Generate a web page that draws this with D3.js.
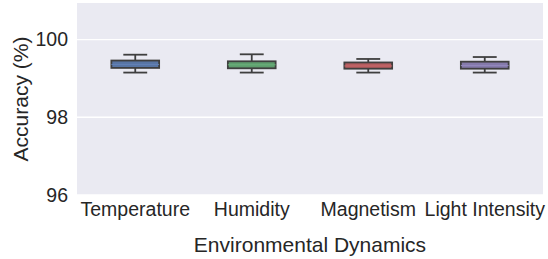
<!DOCTYPE html>
<html>
<head>
<meta charset="utf-8">
<script src="https://cdn.jsdelivr.net/npm/d3@7"></script>
<style>
  body { margin: 0; background: #fff; }
  text { font-family: "Liberation Sans", Arial, sans-serif; fill: #262626; }
</style>
</head>
<body>
<div id="chart"></div>
<script>
const categories = ["Temperature", "Humidity", "Magnetism", "Light Intensity"];
const whiskerLow = [99.15, 99.15, 99.15, 99.15];
const q1 = [99.27, 99.26, 99.25, 99.25];
const median = [99.36, 99.35, 99.32, 99.33];
const q3 = [99.46, 99.44, 99.41, 99.43];
const whiskerHigh = [99.61, 99.62, 99.50, 99.55];
const yTicks = [96, 98, 100];
const colors = ["#5875a4", "#5f9e6e", "#b55d60", "#857aab"];

const width = 548, height = 259;
const margin = { top: 3, right: 5, bottom: 64, left: 77 };

const svg = d3.select("#chart").append("svg")
  .attr("width", width)
  .attr("height", height);

const x = d3.scaleBand()
  .domain(categories)
  .range([margin.left, width - margin.right]);

const y = d3.scaleLinear()
  .domain([96, 100.94])
  .range([height - margin.bottom, margin.top]);

// background
svg.append("rect")
  .attr("x", margin.left)
  .attr("y", margin.top)
  .attr("width", width - margin.left - margin.right)
  .attr("height", height - margin.top - margin.bottom)
  .attr("fill", "#eaeaf2");

// grid
svg.append("g")
  .selectAll("line")
  .data(yTicks)
  .join("line")
  .attr("x1", margin.left)
  .attr("x2", width - margin.right)
  .attr("y1", d => y(d))
  .attr("y2", d => y(d))
  .attr("stroke", "#fff")
  .attr("stroke-width", 1.3);

// y axis
const yAxis = svg.append("g")
  .attr("transform", `translate(${margin.left},0)`)
  .call(d3.axisLeft(y).tickValues(yTicks).tickFormat(d3.format("d")).tickSize(0).tickPadding(9));
yAxis.select(".domain").remove();
yAxis.selectAll("text").style("font-size", "19.5px").attr("fill", "#262626");

// x axis
const xAxis = svg.append("g")
  .attr("transform", `translate(0,${height - margin.bottom})`)
  .call(d3.axisBottom(x).tickSize(0).tickPadding(7));
xAxis.select(".domain").remove();
xAxis.selectAll("text").style("font-size", "19.5px").attr("fill", "#262626");

// boxes
const boxW = x.bandwidth() * 0.41;
const capW = boxW / 2;
const edge = "#3f3f3f";

const g = svg.append("g")
  .selectAll("g")
  .data(categories)
  .join("g")
  .attr("transform", d => `translate(${x(d) + x.bandwidth() / 2},0)`);

g.append("line")
  .attr("y1", (d, i) => y(whiskerHigh[i]))
  .attr("y2", (d, i) => y(q3[i]))
  .attr("stroke", edge).attr("stroke-width", 1.8);
g.append("line")
  .attr("y1", (d, i) => y(q1[i]))
  .attr("y2", (d, i) => y(whiskerLow[i]))
  .attr("stroke", edge).attr("stroke-width", 1.8);
g.append("line")
  .attr("x1", -capW / 2).attr("x2", capW / 2)
  .attr("y1", (d, i) => y(whiskerHigh[i]))
  .attr("y2", (d, i) => y(whiskerHigh[i]))
  .attr("stroke", edge).attr("stroke-width", 1.8);
g.append("line")
  .attr("x1", -capW / 2).attr("x2", capW / 2)
  .attr("y1", (d, i) => y(whiskerLow[i]))
  .attr("y2", (d, i) => y(whiskerLow[i]))
  .attr("stroke", edge).attr("stroke-width", 1.8);
g.append("rect")
  .attr("x", -boxW / 2)
  .attr("width", boxW)
  .attr("y", (d, i) => y(q3[i]))
  .attr("height", (d, i) => y(q1[i]) - y(q3[i]))
  .attr("fill", (d, i) => colors[i])
  .attr("stroke", edge).attr("stroke-width", 1.8);
g.append("line")
  .attr("x1", -boxW / 2).attr("x2", boxW / 2)
  .attr("y1", (d, i) => y(median[i]))
  .attr("y2", (d, i) => y(median[i]))
  .attr("stroke", (d, i) => d3.color(colors[i]).brighter(0.3))
  .attr("stroke-width", 1);

// axis titles
svg.append("text")
  .attr("x", (margin.left + width - margin.right) / 2)
  .attr("y", 252)
  .attr("text-anchor", "middle")
  .style("font-size", "21px")
  .text("Environmental Dynamics");

svg.append("text")
  .attr("transform", `translate(28,${(margin.top + height - margin.bottom) / 2}) rotate(-90)`)
  .attr("text-anchor", "middle")
  .style("font-size", "21px")
  .text("Accuracy (%)");
</script>
</body>
</html>
